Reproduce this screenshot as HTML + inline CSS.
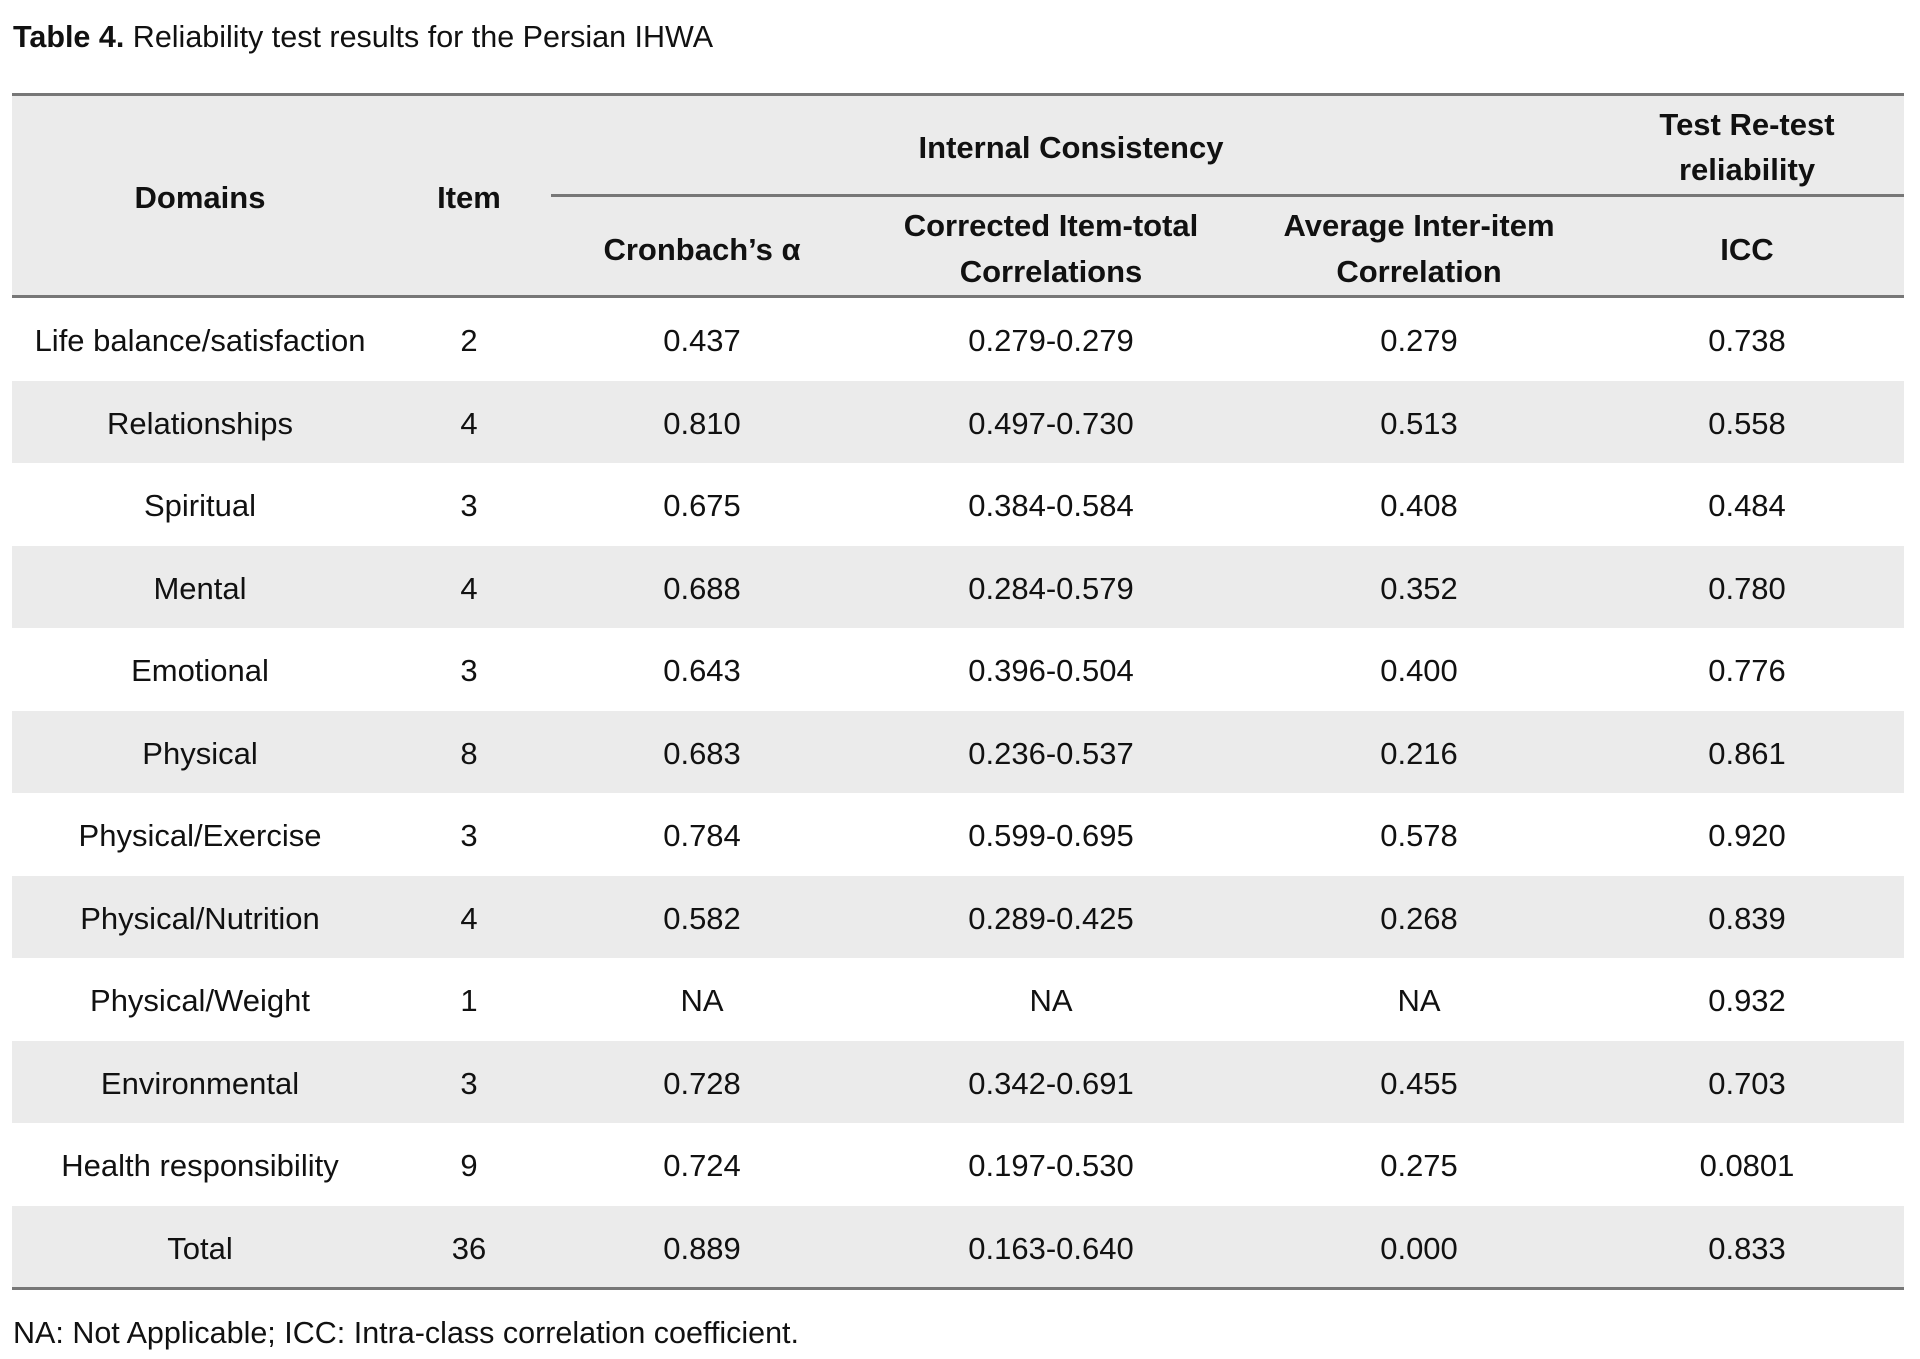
<!DOCTYPE html>
<html><head><meta charset="utf-8"><style>
body{margin:0;width:1920px;height:1359px;background:#fff;font-family:"Liberation Sans",sans-serif;color:#111;position:relative;overflow:hidden}
.t{position:absolute;white-space:nowrap;transform:translate(-50%,-50%);font-size:31px}
.b{font-weight:bold;font-size:31px}
.bg{position:absolute;left:12px;width:1892px;background:#ebebeb}
.ln{position:absolute;background:#777;height:3px}
</style></head><body>
<div class="bg" style="top:94px;height:202px"></div>
<div id="rows"></div>
<div style="position:absolute;left:13px;top:20px;font-size:30.5px"><b>Table 4.</b> Reliability test results for the Persian IHWA</div>
<div class="ln" style="left:12px;width:1892px;top:93px"></div>
<div class="ln" style="left:551px;width:1353px;top:194px"></div>
<div class="ln" style="left:12px;width:1892px;top:295px"></div>
<div class="t b" style="left:200px;top:198px">Domains</div>
<div class="t b" style="left:469px;top:198px">Item</div>
<div class="t b" style="left:1071px;top:148px">Internal Consistency</div>
<div class="t b" style="left:1747px;top:125px">Test Re-test</div>
<div class="t b" style="left:1747px;top:170px">reliability</div>
<div class="t b" style="left:702px;top:250px">Cronbach’s α</div>
<div class="t b" style="left:1051px;top:226px">Corrected Item-total</div>
<div class="t b" style="left:1051px;top:272px">Correlations</div>
<div class="t b" style="left:1419px;top:226px">Average Inter-item</div>
<div class="t b" style="left:1419px;top:272px">Correlation</div>
<div class="t b" style="left:1747px;top:250px">ICC</div>
<div class="ln" style="left:12px;width:1892px;top:1287px"></div>
<div style="position:absolute;left:13px;top:1316px;font-size:30.5px">NA: Not Applicable; ICC: Intra-class correlation coefficient.</div>
<script>
var d=[["Life balance/satisfaction","2","0.437","0.279-0.279","0.279","0.738"],
["Relationships","4","0.810","0.497-0.730","0.513","0.558"],
["Spiritual","3","0.675","0.384-0.584","0.408","0.484"],
["Mental","4","0.688","0.284-0.579","0.352","0.780"],
["Emotional","3","0.643","0.396-0.504","0.400","0.776"],
["Physical","8","0.683","0.236-0.537","0.216","0.861"],
["Physical/Exercise","3","0.784","0.599-0.695","0.578","0.920"],
["Physical/Nutrition","4","0.582","0.289-0.425","0.268","0.839"],
["Physical/Weight","1","NA","NA","NA","0.932"],
["Environmental","3","0.728","0.342-0.691","0.455","0.703"],
["Health responsibility","9","0.724","0.197-0.530","0.275","0.0801"],
["Total","36","0.889","0.163-0.640","0.000","0.833"]];
var xs=[200,469,702,1051,1419,1747],h="";
for(var i=0;i<12;i++){var yy=298+i*82.5;
if(i%2==1)h+='<div class="bg" style="top:'+yy+'px;height:82.5px"></div>';
for(var j=0;j<6;j++)h+='<div class="t" style="left:'+xs[j]+'px;top:'+(yy+43)+'px">'+d[i][j]+'</div>';}
document.getElementById("rows").innerHTML=h;
</script>
</body></html>
